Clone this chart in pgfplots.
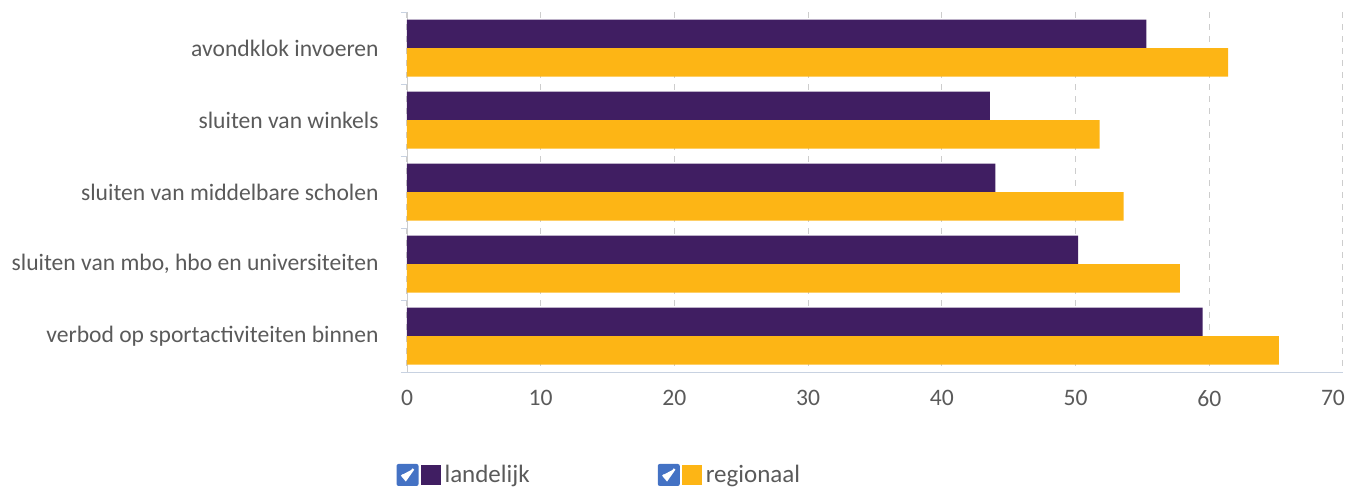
\documentclass[border=0pt]{standalone}
\usepackage{pgfplots}
\pgfplotsset{compat=1.18}
\usepackage{fontspec}
\setmainfont{Carlito}
\definecolor{cpurple}{RGB}{64,30,98}
\definecolor{cyellow}{RGB}{253,181,21}
\definecolor{cbblue}{RGB}{68,114,196}
\definecolor{txtgray}{RGB}{90,90,90}
\definecolor{gridgray}{RGB}{205,205,205}
\definecolor{axisblue}{RGB}{200,210,225}
\begin{document}
\begin{tikzpicture}
\path[use as bounding box] (-203.5pt,-58pt) rectangle (471pt,186pt);
\begin{axis}[
  at={(0,0)}, anchor=south west,
  scale only axis, width=468pt, height=180pt,
  xmin=0, xmax=70, xtick={0,10,...,60},
  extra x ticks={70},
  extra x tick style={xticklabel style={xshift=-5pt}},
  ymin=-0.5, ymax=4.5, y dir=reverse,
  ytick={0,1,2,3,4},
  yticklabels={{avondklok invoeren}, {sluiten van winkels}, {sluiten van middelbare scholen}, {sluiten van mbo, hbo en universiteiten}, {verbod op sportactiviteiten binnen}},
  minor ytick={-0.5,0.5,1.5,2.5,3.5,4.5},
  major tick length=0pt, minor tick length=3pt,
  minor y tick style={axisblue},
  tick align=outside,
  axis x line*=bottom, axis y line*=left,
  x axis line style={axisblue, -},
  y axis line style={gridgray, -},
  xmajorgrids, major grid style={gridgray, dashed, line width=0.5pt},
  tick label style={font=\fontsize{11.8}{14}\selectfont, text=txtgray},
  yticklabel style={inner sep=0pt, xshift=-14pt},
  xticklabel style={inner sep=0pt, yshift=-9pt},
  /pgf/number format/assume math mode=true,
  xbar, bar width=14.25pt,
  legend style={at={(axis description cs:-0.018,-0.286)}, anchor=west, draw=none, fill=none,
    font=\fontsize{12.5}{14}\selectfont, text=txtgray, legend columns=2,
    /tikz/every even column/.append style={column sep=62pt}},
  legend image code/.code={
    \fill[cbblue, rounded corners=1pt] (0pt,-5.5pt) rectangle (11pt,5.5pt);
    \draw[white, line width=1.1pt] (2.6pt,0pt)--(4.6pt,-2.4pt)--(8.4pt,3pt);
    \fill[#1, draw=none] (12pt,-5pt) rectangle (22pt,5pt);
  },
]
\addplot[fill=cpurple, draw=none, bar shift=7.125pt] coordinates {(55.3,0) (43.6,1) (44.0,2) (50.2,3) (59.5,4)};
\addplot[fill=cyellow, draw=none, bar shift=-7.125pt] coordinates {(61.4,0) (51.8,1) (53.6,2) (57.8,3) (65.2,4)};
\legend{landelijk, regionaal}
\end{axis}
\end{tikzpicture}
\end{document}
